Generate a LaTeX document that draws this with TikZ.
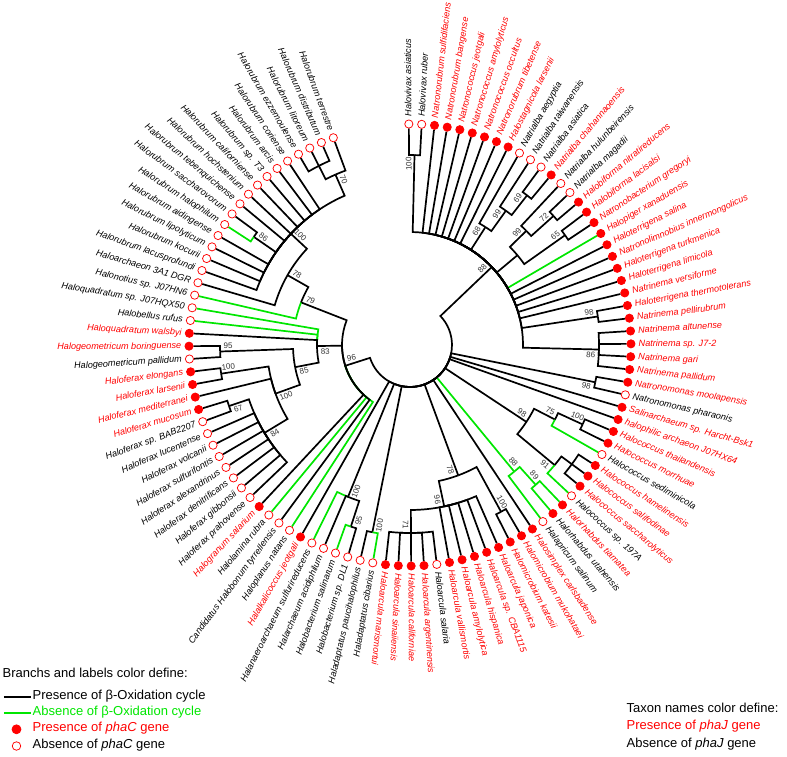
\documentclass[tikz,border=0pt]{standalone}
\usepackage{fontspec}
\setmainfont{Liberation Sans}
\definecolor{grn}{RGB}{0,230,0}
\pgfdeclarelayer{bg}
\pgfsetlayers{bg,main}
\tikzset{
  br/.style={line width=1.7pt, line join=miter},
  tip/.style={circle, draw=red, line width=0.75pt, inner sep=0pt, minimum size=8.2pt},
  lab/.style={inner sep=0pt, font=\fontsize{9.1}{11}\selectfont\itshape},
  bs/.style={inner sep=0pt, text=black!80, font=\fontsize{8}{9}\selectfont},
  legt/.style={inner sep=0pt, anchor=mid west, font=\fontsize{13}{15}\selectfont},
}
% internal node: radius, angle, list of childangle/target/colour
\newcommand\nd[3]{\foreach \ca/\tg/\st in {#3}{\draw[br,draw=\st] (#2:#1pt) arc[start angle=#2, end angle=\ca, radius=#1pt] -- (\tg);}}
% bootstrap label: angle, radius, text, name
\newcommand\bsl[4]{\pgfmathsetmacro\myrot{(#1>95)?(#1-180):((#1<-98)?(#1+180):#1)}\node[bs,rotate=\myrot] (#4) at (#1:#2pt) {#3};}
\begin{document}
\begin{tikzpicture}[x=1pt,y=1pt]
\useasboundingbox (-410,-411) rectangle (377,345);
% ---------- tips ----------
\foreach \i/\nm/\tc/\cf in {
1/Halovivax asiaticus/black/white,
2/Halovivax ruber/black/white,
3/Natronorubrum sulfidifaciens/red/red,
4/Natronorubrum bangense/red/red,
5/Natronococcus jeotgali/red/red,
6/Natronococcus amylolyticus/red/red,
7/Natronococcus occultus/red/red,
8/Natronorubrum tibetense/red/red,
9/Halostagnicola larsenii/red/red,
10/Natrialba aegyptia/black/white,
11/Natrialba taiwanensis/black/white,
12/Natrialba asiatica/black/white,
13/Natrialba chahannaoensis/red/red,
14/Natrialba hulunbeirensis/black/white,
15/Natrialba magadii/black/white,
16/Halobiforma nitratireducens/red/red,
17/Halobiforma lacisalsi/red/red,
18/Natronobacterium gregoryi/red/red,
19/Halopiger xanaduensis/red/red,
20/Haloterrigena salina/red/red,
21/Natronolimnobius innermongolicus/red/red,
22/Haloterrigena turkmenica/red/red,
23/Haloterrigena limicola/red/red,
24/Natrinema versiforme/red/red,
25/Haloterrigena thermotolerans/red/red,
26/Natrinema pellirubrum/red/red,
27/Natrinema altunense/red/red,
28/Natrinema sp. J7-2/red/red,
29/Natrinema gari/red/red,
30/Natrinema pallidum/red/red,
31/Natronomonas moolapensis/red/red,
32/Natronomonas pharaonis/black/white,
33/Salinarchaeum sp. Harcht-Bsk1/red/red,
34/halophilic archaeon J07HX64/red/red,
35/Halococcus thailandensis/red/red,
36/Halococcus morrhuae/red/red,
37/Halococcus sediminicola/black/white,
38/Halococcus hamelinensis/red/red,
39/Halococcus salifodinae/red/red,
40/Halococcus saccharolyticus/red/red,
41/Halococcus sp. 197A/black/white,
42/Halorhabdus tiamatea/red/red,
43/Halorhabdus utahensis/black/red,
44/Halapricum salinum/black/white,
45/Halosimplex carlsbadense/red/red,
46/Halomicrobium mukohataei/red/red,
47/Halomicrobium katesii/red/red,
48/Haloarcula japonica/red/red,
49/Haloarcula sp. CBA1115/red/red,
50/Haloarcula hispanica/red/red,
51/Haloarcula amylolytica/red/red,
52/Haloarcula vallismortis/red/red,
53/Haloarcula salaria/black/white,
54/Haloarcula argentinensis/red/red,
55/Haloarcula californiae/red/red,
56/Haloarcula sinaiiensis/red/red,
57/Haloarcula marismortui/red/red,
58/Haladaptatus cibarius/black/white,
59/Haladaptatus paucihalophilus/black/white,
60/Halobacterium sp. DL1/black/white,
61/Halobacterium salinarum/black/white,
62/Halarchaeum acidiphilum/black/white,
63/Halanaeroarchaeum sulfurireducens/black/white,
64/Halalkalicoccus jeotgali/red/red,
65/Haloplanus natans/black/white,
66/Candidatus Halobonum tyrrellensis/black/white,
67/Halolamina rubra/black/white,
68/Halogranum salarium/red/red,
69/Haloferax prahovense/black/white,
70/Haloferax gibbonsii/black/white,
71/Haloferax denitrificans/black/white,
72/Haloferax alexandrinus/black/white,
73/Haloferax sulfurifontis/black/white,
74/Haloferax volcanii/black/white,
75/Haloferax lucentense/black/white,
76/Haloferax sp. BAB2207/black/white,
77/Haloferax mucosum/red/red,
78/Haloferax mediterranei/red/red,
79/Haloferax larsenii/red/red,
80/Haloferax elongans/red/red,
81/Halogeometricum pallidum/black/white,
82/Halogeometricum boringuense/red/red,
83/Haloquadratum walsbyi/red/red,
84/Halobellus rufus/black/white,
85/Haloquadratum sp. J07HQX50/black/white,
86/Halonotius sp. J07HN6/black/white,
87/Haloarchaeon 3A1 DGR/black/white,
88/Halorubrum lacusprofundi/black/white,
89/Halorubrum kocurii/black/white,
90/Halorubrum lipolyticum/black/white,
91/Halorubrum aidingense/black/white,
92/Halorubrum halophilum/black/white,
93/Halorubrum saccharovorum/black/white,
94/Halorubrum tebenquichense/black/white,
95/Halorubrum hochstenium/black/white,
96/Halorubrum californiense/black/white,
97/Halorubrum sp. T3/black/white,
98/Halorubrum arcis/black/white,
99/Halorubrum coriense/black/white,
100/Halorubrum ezzemoulense/black/white,
101/Halorubrum litoreum/black/white,
102/Halorubrum distributum/black/white,
103/Halorubrum terrestre/black/white}{
  \pgfmathsetmacro\ang{90.3-(\i-1)*10/3}
  \node[tip,fill=\cf] (t\i) at (\ang:221pt) {};
  \ifnum\i<58
    \node[lab,text=\tc,anchor=mid west,rotate=\ang] (l\i) at (\ang:228.5pt) {\nm};
  \else
    \node[lab,text=\tc,anchor=mid east,rotate=\ang+180] (l\i) at (\ang:228.5pt) {\nm};
  \fi
}
% ---------- internal nodes ----------
\coordinate (root) at (-59.285:42pt);
\coordinate (A) at (43.63:113pt);
\coordinate (H1) at (88.635:190pt);
\coordinate (N68) at (57.385:140pt);
\coordinate (N99a) at (54.47:165pt);
\coordinate (N69) at (51.965:190pt);
\coordinate (Nq) at (39.885:140pt);
\coordinate (N99b) at (44.47:163pt);
\coordinate (N72) at (41.965:193pt);
\coordinate (N65) at (35.30:190pt);
\coordinate (N98a) at (8.635:190pt);
\coordinate (N86a) at (-1.37:189pt);
\coordinate (N98c) at (-11.365:189pt);
\coordinate (N98h) at (-33.45:139.5pt);
\coordinate (N75) at (-27.20:163pt);
\coordinate (N100h) at (-24.70:190pt);
\coordinate (N91) at (-39.70:188pt);
\coordinate (Nh2) at (-36.365:201pt);
\coordinate (N88g) at (-50.53:164pt);
\coordinate (N89) at (-48.035:188pt);
\coordinate (N78a) at (-69.70:139pt);
\coordinate (N96h) at (-78.035:165pt);
\coordinate (N71) at (-89.70:188pt);
\coordinate (N100m) at (-61.365:190pt);
\coordinate (N100d) at (-101.365:191pt);
\coordinate (N100b) at (-112.20:164pt);
\coordinate (N95) at (-108.035:191pt);
\coordinate (N96r) at (197.80:68pt);
\coordinate (N79) at (158.635:117pt);
\coordinate (N78) at (150.30:141pt);
\coordinate (N100r) at (136.965:163pt);
\coordinate (N86) at (145.30:190pt);
\coordinate (N70) at (113.63:186pt);
\coordinate (Nd) at (116.965:201pt);
\coordinate (N83) at (180.61:93pt);
\coordinate (N85) at (190.92:117pt);
\coordinate (N95g) at (181.965:190pt);
\coordinate (N100f) at (199.88:143pt);
\coordinate (N100e) at (188.635:191pt);
\coordinate (N84) at (211.13:170pt);
\coordinate (N67) at (198.635:191pt);
\begin{pgfonlayer}{bg}
\nd{42}{-59.285}{-50.53/N88g/grn, 43.63/A/black, -11.365/N98c/black, -16.37/t33/black, -19.70/t34/black, -33.45/N98h/black, -56.37/t45/black, -69.70/N78a/black, -101.365/N100d/black, -112.20/N100b/black, -119.70/t64/black, -162.20/N96r/black}
\nd{113}{43.63}{30.30/t19/grn, 88.635/H1/black, 83.63/t3/black, 80.30/t4/black, 76.97/t5/black, 73.63/t6/black, 70.30/t7/black, 66.97/t8/black, 63.63/t9/black, 57.385/N68/black, 39.885/Nq/black, 26.97/t20/black, 23.63/t21/black, 20.30/t22/black, 16.97/t23/black, 13.63/t24/black, 8.635/N98a/black, -1.37/N86a/black}
\nd{190}{88.635}{90.30/t1/black, 86.97/t2/black}
\nd{140}{57.385}{60.30/t10/black, 54.47/N99a/black}
\nd{165}{54.47}{56.97/t11/black, 51.965/N69/black}
\nd{190}{51.965}{53.63/t12/black, 50.30/t13/black}
\nd{140}{39.885}{44.47/N99b/black, 35.30/N65/black}
\nd{163}{44.47}{46.97/t14/black, 41.965/N72/black}
\nd{193}{41.965}{43.63/t15/black, 40.30/t16/black}
\nd{190}{35.30}{36.97/t17/black, 33.63/t18/black}
\nd{190}{8.635}{10.30/t25/black, 6.97/t26/black}
\nd{189}{-1.37}{3.63/t27/black, 0.30/t28/black, -3.03/t29/black, -6.37/t30/black}
\nd{189}{-11.365}{-9.70/t31/black, -13.03/t32/black}
\nd{139.5}{-33.45}{-27.20/N75/black, -39.70/N91/black}
\nd{163}{-27.20}{-29.70/t37/grn, -24.70/N100h/black}
\nd{190}{-24.70}{-23.03/t35/black, -26.37/t36/black}
\nd{188}{-39.70}{-43.03/t41/grn, -36.365/Nh2/black}
\nd{201}{-36.365}{-33.03/t38/black, -36.37/t39/black, -39.70/t40/black}
\nd{164}{-50.53}{-48.035/N89/grn, -53.03/t44/grn}
\nd{188}{-48.035}{-46.37/t42/grn, -49.70/t43/grn}
\nd{139}{-69.70}{-78.035/N96h/black, -61.365/N100m/black}
\nd{165}{-78.035}{-89.70/N71/black, -79.70/t52/black, -76.37/t51/black, -73.03/t50/black, -69.70/t49/black, -66.37/t48/black}
\nd{188}{-89.70}{-83.03/t53/black, -86.37/t54/black, -89.70/t55/black, -93.03/t56/black, -96.37/t57/black}
\nd{190}{-61.365}{-59.70/t46/black, -63.03/t47/black}
\nd{191}{-101.365}{-99.70/t58/grn, -103.03/t59/black}
\nd{164}{-112.20}{-116.37/t63/grn, -108.035/N95/black, -113.03/t62/black}
\nd{191}{-108.035}{-109.70/t61/grn, -106.37/t60/black}
\nd{68}{197.80}{236.97/t65/grn, 230.30/t67/grn, 158.635/N79/black, 180.61/N83/black, 226.97/t68/black, 233.63/t66/black}
\nd{117}{158.635}{166.97/t86/grn, 150.30/N78/black}
\nd{141}{150.30}{163.63/t87/black, 136.965/N100r/black}
\nd{163}{136.965}{160.30/t88/black, 156.97/t89/black, 153.63/t90/black, 150.30/t91/black, 145.30/N86/black, 140.30/t94/black, 136.97/t95/black, 133.63/t96/black, 130.30/t97/black, 126.97/t98/black, 123.63/t99/black, 113.63/N70/black}
\nd{190}{145.30}{146.97/t92/grn, 143.63/t93/black}
\nd{186}{113.63}{110.30/t103/black, 116.965/Nd/black}
\nd{201}{116.965}{120.30/t100/black, 116.97/t101/black, 113.63/t102/black}
\nd{93}{180.61}{170.30/t85/grn, 173.63/t84/grn, 176.97/t83/black, 190.92/N85/black}
\nd{117}{190.92}{181.965/N95g/black, 199.88/N100f/black}
\nd{190}{181.965}{183.63/t81/black, 180.30/t82/black}
\nd{143}{199.88}{188.635/N100e/black, 193.63/t78/black, 211.13/N84/black}
\nd{191}{188.635}{186.97/t80/black, 190.30/t79/black}
\nd{170}{211.13}{198.635/N67/black, 203.63/t75/black, 206.97/t74/black, 210.30/t73/black, 213.63/t72/black, 216.97/t71/black, 220.30/t70/black, 223.63/t69/black}
\nd{191}{198.635}{196.97/t77/black, 200.30/t76/black}
\end{pgfonlayer}
% ---------- bootstrap values ----------
\bsl{46.5}{105}{88}{b1}
\bsl{90.4}{181}{100}{b2}
\bsl{59.8}{132}{68}{b3}
\bsl{56.4}{157}{99}{b4}
\bsl{53.7}{182}{69}{b5}
\bsl{46.4}{155}{99}{b6}
\bsl{43.6}{185}{72}{b7}
\bsl{37.0}{182}{65}{b8}
\bsl{10.3}{182}{98}{b9}
\bsl{-3.1}{181}{86}{b10}
\bsl{-13.1}{181}{98}{b11}
\bsl{-31.1}{131}{98}{b12}
\bsl{-25.2}{155}{75}{b13}
\bsl{-23.0}{182}{100}{b14}
\bsl{-41.4}{180}{91}{b15}
\bsl{-46.3}{180}{89}{b16}
\bsl{-48.5}{156}{88}{b17}
\bsl{-59.6}{182}{100}{b18}
\bsl{-72.0}{131}{78}{b19}
\bsl{-80.0}{157}{96}{b20}
\bsl{-91.4}{180}{71}{b21}
\bsl{-99.6}{183}{100}{b22}
\bsl{-106.3}{183}{95}{b23}
\bsl{-110.2}{156}{100}{b24}
\bsl{192.6}{60}{96}{b25}
\bsl{155.8}{109}{79}{b26}
\bsl{148.0}{133}{78}{b27}
\bsl{135.0}{155}{100}{b28}
\bsl{143.6}{182}{86}{b29}
\bsl{111.9}{178}{70}{b30}
\bsl{184.3}{85}{83}{b31}
\bsl{193.8}{109}{85}{b32}
\bsl{180.3}{182}{95}{b33}
\bsl{202.3}{134}{100}{b34}
\bsl{186.9}{183}{100}{b35}
\bsl{213.0}{161}{84}{b36}
\bsl{200.3}{183}{67}{b37}
% ---------- legend ----------
\node[legt] (lg0) at (-407.5,-330) {Branchs and labels color define:};
\coordinate (la) at (-406,-352.3);
\coordinate (lb) at (-379,-352.3);
\draw[line width=2.2pt] (la) -- (lb);
\node[legt] (lg1) at (-377.5,-352.3) {Presence of β-Oxidation cycle};
\coordinate (lc) at (-406,-367.7);
\coordinate (ld) at (-379,-367.7);
\draw[line width=2.2pt,grn] (lc) -- (ld);
\node[legt,text=grn] (lg2) at (-377.5,-367.7) {Absence of β-Oxidation cycle};
\node[tip,fill=red,minimum size=9pt] (lcF) at (-393.5,-384.3) {};
\node[legt,text=red] (lg3) at (-377.5,-384.3) {Presence of \textit{phaC} gene};
\node[tip,fill=white,minimum size=8.5pt] (lcO) at (-393.5,-401) {};
\node[legt] (lg4) at (-377.5,-401) {Absence of \textit{phaC} gene};
\node[legt] (lg5) at (216.5,-365) {Taxon names color define:};
\node[legt,text=red] (lg6) at (216.5,-382.3) {Presence of \textit{phaJ} gene};
\node[legt] (lg7) at (216.5,-400.3) {Absence of \textit{phaJ} gene};
\end{tikzpicture}
\end{document}
